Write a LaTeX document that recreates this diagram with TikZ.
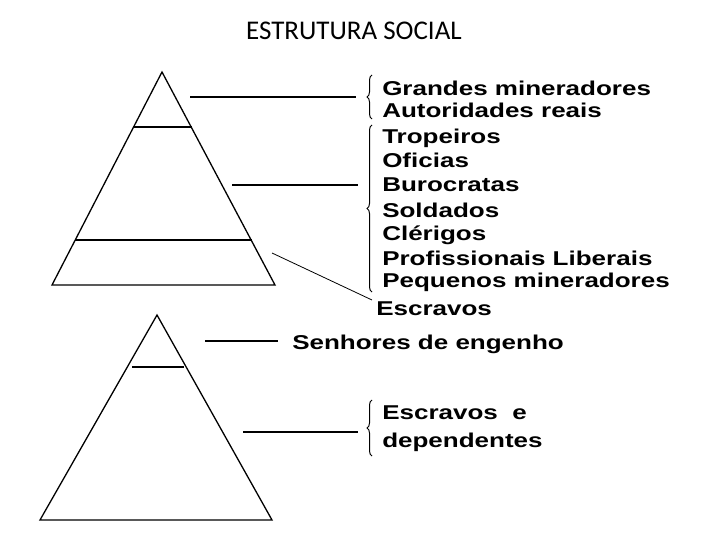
\documentclass[tikz,border=0pt]{standalone}
\usepackage{fontspec}
\setmainfont{Liberation Sans}
\newfontfamily\titlefont{Carlito}
\usetikzlibrary{decorations.pathreplacing}
\begin{document}
\begin{tikzpicture}[x=1pt,y=-1pt,
  ln/.style={line width=1.3pt},
  lbl/.style={anchor=west,inner sep=0pt,font=\bfseries\fontsize{20}{20}\selectfont,xscale=1.3},
  br/.style={line width=1pt,decorate,decoration={brace,amplitude=5pt}}]
\useasboundingbox (0,0) rectangle (720,540);
\node[font=\titlefont\fontsize{27}{27}\selectfont] (t) at (354,31) {ESTRUTURA SOCIAL};
% top pyramid
\coordinate (A) at (162,72); \coordinate (B) at (52,285); \coordinate (C) at (275,285);
\draw[ln] (A) -- (B) -- (C) -- cycle;
\draw[ln] (133,127) -- (192,127);
\draw[ln] (75,240) -- (252,240);
\coordinate (c1) at (190,97); \coordinate (c1e) at (356,97);
\coordinate (c2) at (232,185); \coordinate (c2e) at (358,185);
\coordinate (c3) at (272,253); \coordinate (c3e) at (372,300);
\draw[ln] (c1) -- (c1e);
\draw[ln] (c2) -- (c2e);
\draw[line width=0.8pt] (c3) -- (c3e);
\draw[br] (372,119) -- (372,75);
\draw[br] (372,292) -- (372,125);
\node[lbl] (n1) at (382,88) {Grandes mineradores};
\node[lbl] (n2) at (382,110) {Autoridades reais};
\node[lbl] (n3) at (382,138) {Tropeiros};
\node[lbl] (n4) at (382,160) {Oficias};
\node[lbl] (n5) at (382,185) {Burocratas};
\node[lbl] (n6) at (382,210) {Soldados};
\node[lbl] (n7) at (382,235) {Clérigos};
\node[lbl] (n8) at (382,258) {Profissionais Liberais};
\node[lbl] (n9) at (382,282) {Pequenos mineradores};
\node[lbl] (n10) at (376,309) {Escravos};
% bottom pyramid
\coordinate (D) at (157,315); \coordinate (E) at (40,520); \coordinate (F) at (272,520);
\draw[ln] (D) -- (E) -- (F) -- cycle;
\draw[ln] (132,367) -- (184,367);
\coordinate (d1) at (205,341); \coordinate (d1e) at (278,341);
\coordinate (d2) at (243,432); \coordinate (d2e) at (358,432);
\draw[ln] (d1) -- (d1e);
\draw[ln] (d2) -- (d2e);
\node[lbl] (m1) at (292,344) {Senhores de engenho};
\draw[br] (372,456) -- (372,400);
\node[lbl] (m2) at (382,413) {Escravos\ \ e};
\node[lbl] (m3) at (382,442) {dependentes};
\end{tikzpicture}
\end{document}
